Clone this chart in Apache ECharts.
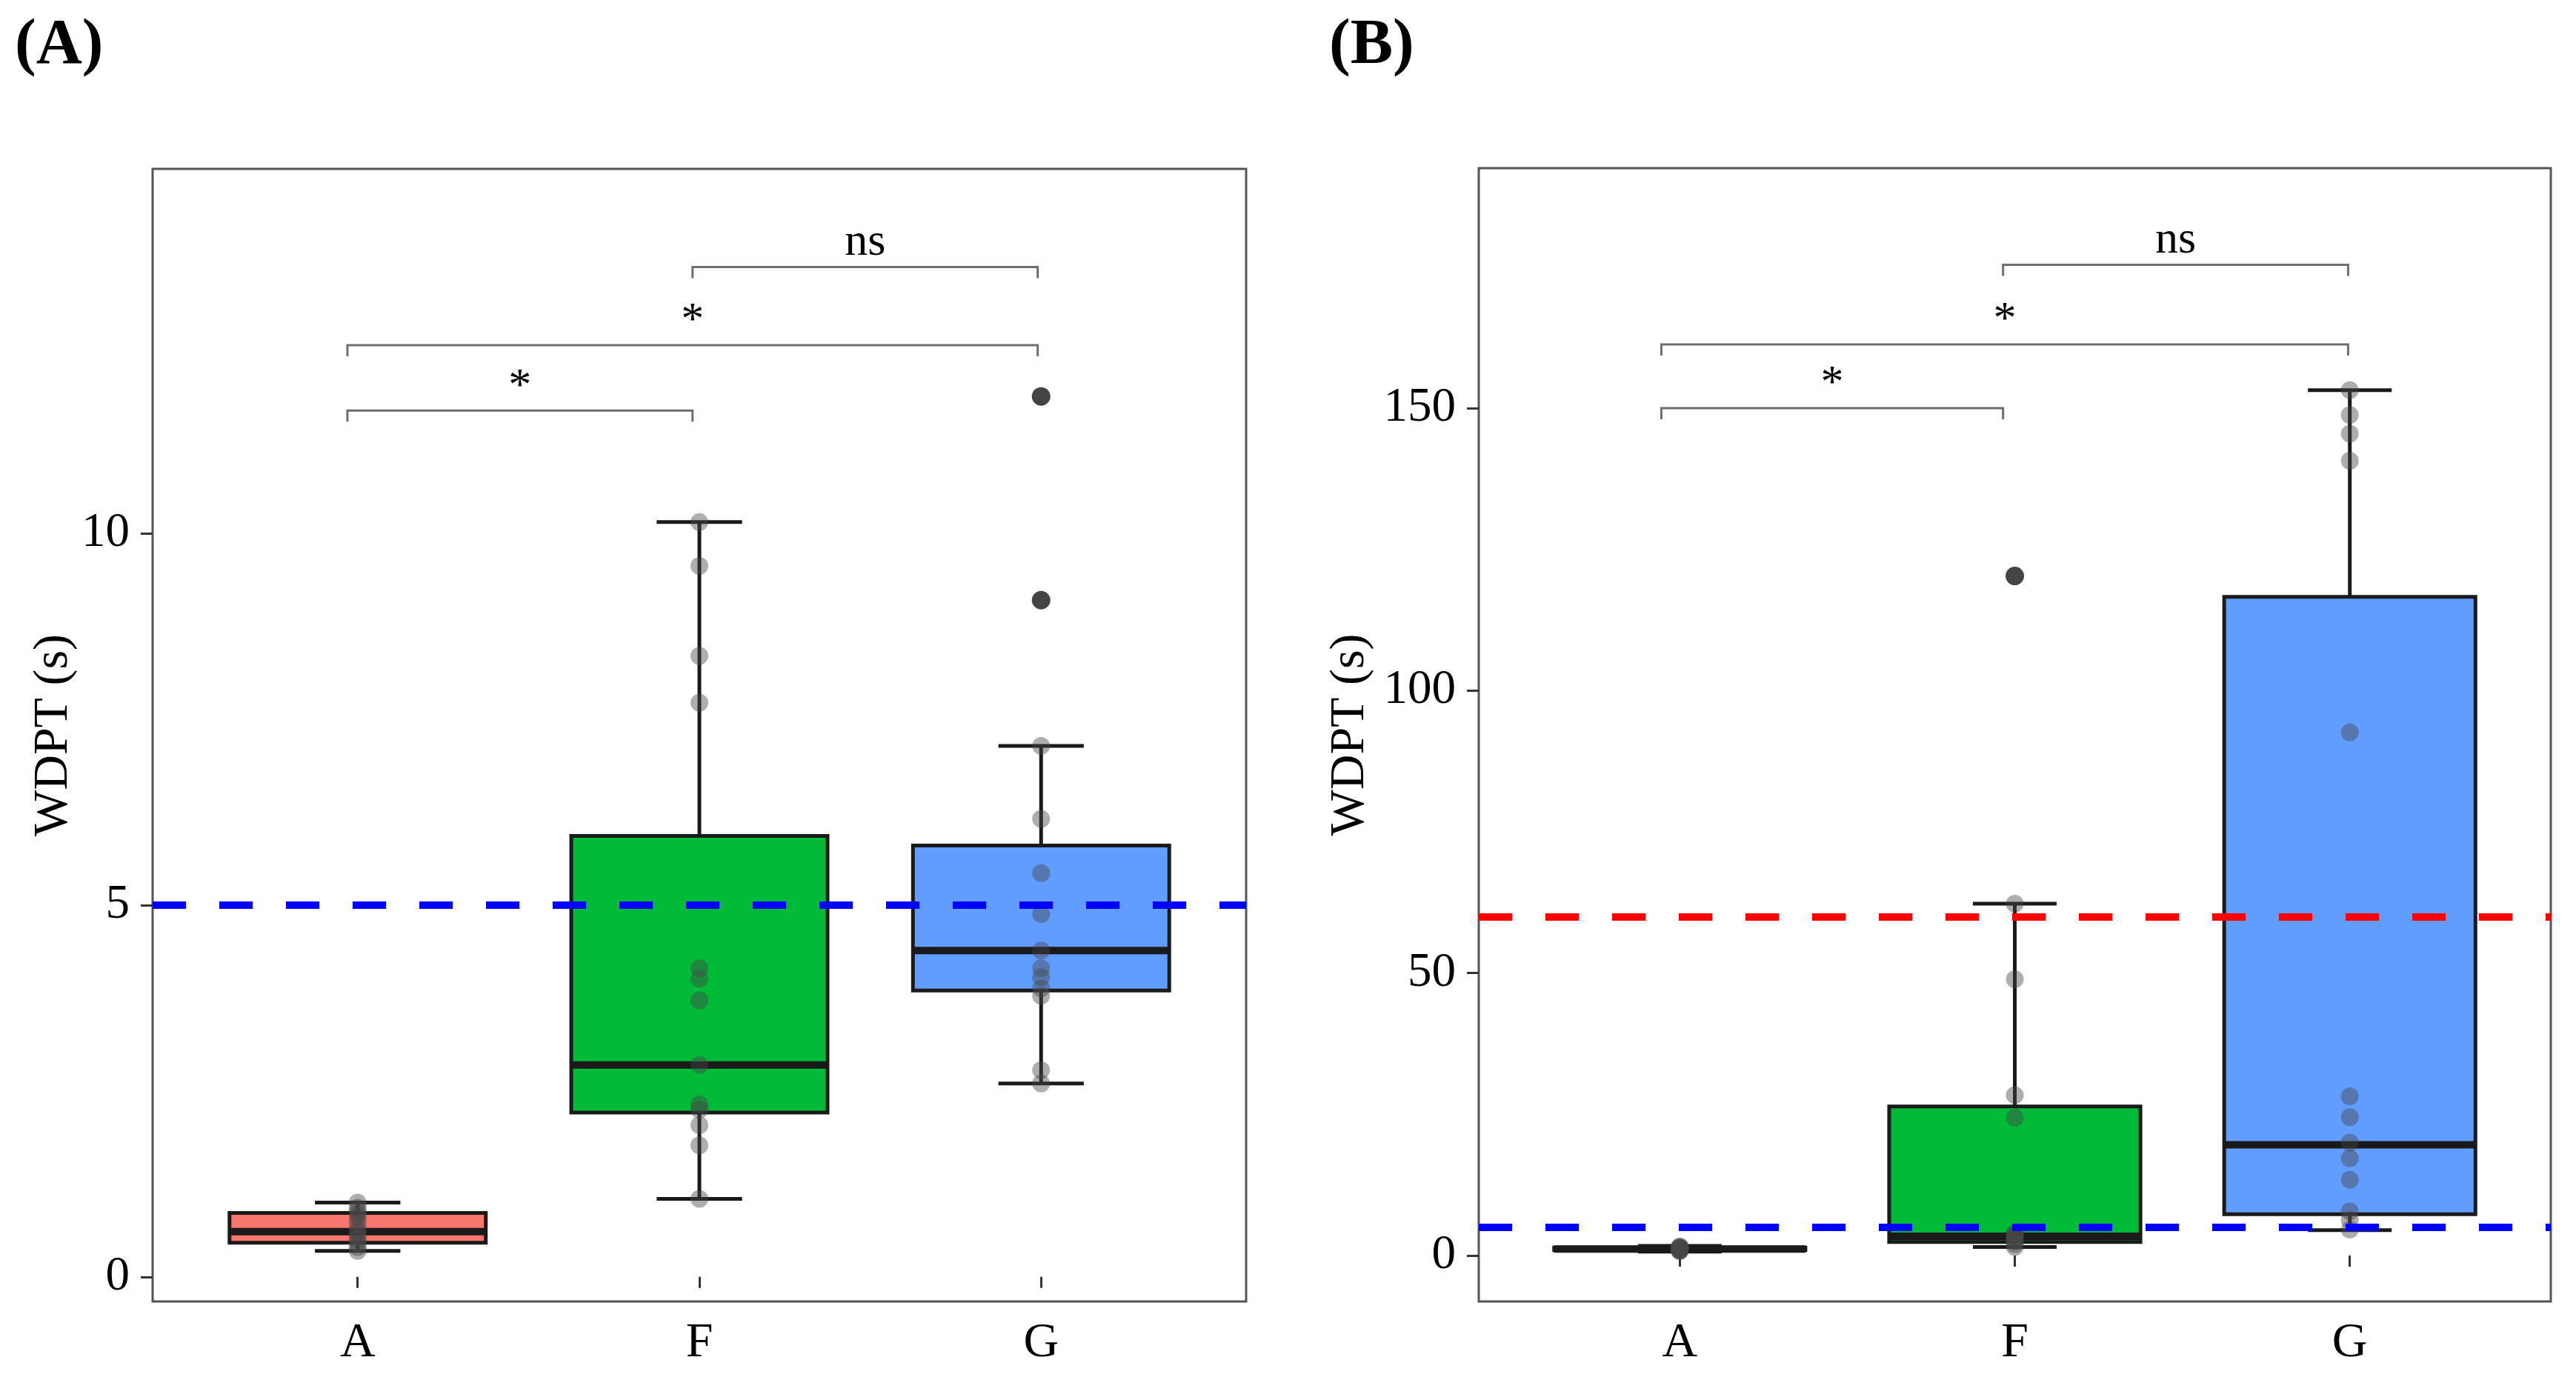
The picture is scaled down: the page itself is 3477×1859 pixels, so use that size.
<!DOCTYPE html>
<html><head><meta charset="utf-8">
<script src="https://cdn.jsdelivr.net/npm/echarts@6/dist/echarts.min.js"></script>
<style>html,body{margin:0;padding:0;background:#fff}#c{width:3477px;height:1859px}</style>
</head><body><div id="c"></div>
<script>
const categories = ['A', 'F', 'G'];
const boxColors = ['#F8766D', '#00BA38', '#619CFF'];

// ---- Panel (A): WDPT (s) ----
const aLow  = [0.35, 1.05, 2.60];
const aQ1   = [0.46, 2.21, 3.85];
const aMed  = [0.61, 2.85, 4.39];
const aQ3   = [0.86, 5.93, 5.80];
const aHigh = [1.00, 10.15, 7.14];
const aPtsA = [1.00, 0.93, 0.88, 0.84, 0.80, 0.72, 0.64, 0.60, 0.55, 0.50, 0.45, 0.40, 0.35];
const aPtsF = [10.15, 9.56, 8.35, 7.72, 4.15, 4.01, 3.72, 2.85, 2.32, 2.25, 2.04, 1.77, 1.05];
const aPtsG = [7.14, 6.16, 5.43, 4.88, 4.39, 4.15, 4.03, 3.88, 3.78, 2.78, 2.60];
const aOutF = [];
const aOutG = [9.10, 11.84];
const aRefBlue = 5;
const aTicks = [0, 5, 10];
const aSigX1 = [0.97, 0.97, 1.98];
const aSigX2 = [1.98, 2.99, 2.99];
const aSigY  = [11.65, 12.53, 13.58];

// ---- Panel (B): WDPT (s) ----
const bLow  = [0.70, 1.50, 4.50];
const bQ1   = [0.95, 2.40, 7.30];
const bMed  = [1.15, 3.40, 19.60];
const bQ3   = [1.40, 26.40, 116.60];
const bHigh = [1.70, 62.30, 153.20];
const bPtsA = [0.75, 0.85, 0.95, 1.00, 1.05, 1.10, 1.20, 1.25, 1.30, 1.35, 1.45, 1.50, 1.60];
const bPtsF = [62.3, 48.9, 28.4, 24.4, 4.0, 3.6, 3.4, 3.2, 2.9, 2.5, 2.0, 1.5];
const bPtsG = [153.2, 148.8, 145.5, 140.7, 92.6, 28.2, 24.5, 20.0, 17.2, 13.4, 7.8, 6.3, 4.6];
const bOutF = [120.3];
const bOutG = [];
const bRefBlue = 5;
const bRefRed = 60;
const bTicks = [0, 50, 100, 150];
const bSigX1 = [0.945, 0.945, 1.965];
const bSigX2 = [1.965, 2.995, 2.995];
const bSigY  = [150.0, 161.3, 175.4];

const sigLabels = ['*', '*', 'ns'];

const FONT = '"Liberation Serif", "Times New Roman", serif';

function boxData(low, q1, med, q3, high) {
  return categories.map((c, i) => [i + 1, low[i], q1[i], med[i], q3[i], high[i], i]);
}
function ptData(arrs) {
  const out = [];
  arrs.forEach((arr, i) => arr.forEach(v => out.push([i + 1, v])));
  return out;
}
function sigData(x1, x2, y) {
  return y.map((v, i) => [x1[i], x2[i], v, i]);
}

function renderBox(params, api) {
  const x = api.value(0);
  const pLow = api.coord([x, api.value(1)]);
  const pQ1 = api.coord([x, api.value(2)]);
  const pMed = api.coord([x, api.value(3)]);
  const pQ3 = api.coord([x, api.value(4)]);
  const pHigh = api.coord([x, api.value(5)]);
  const ci = api.value(6);
  const hw = api.size([0.75, 0])[0] / 2;
  const cw = api.size([0.25, 0])[0] / 2;
  const stroke = '#1a1a1a';
  return {
    type: 'group',
    children: [
      { type: 'line', shape: { x1: pLow[0], y1: pLow[1], x2: pHigh[0], y2: pHigh[1] }, style: { stroke, lineWidth: 5 } },
      { type: 'line', shape: { x1: pLow[0] - cw, y1: pLow[1], x2: pLow[0] + cw, y2: pLow[1] }, style: { stroke, lineWidth: 5 } },
      { type: 'line', shape: { x1: pHigh[0] - cw, y1: pHigh[1], x2: pHigh[0] + cw, y2: pHigh[1] }, style: { stroke, lineWidth: 5 } },
      { type: 'rect', shape: { x: pQ3[0] - hw, y: pQ3[1], width: hw * 2, height: pQ1[1] - pQ3[1] }, style: { fill: boxColors[ci], stroke, lineWidth: 5 } },
      { type: 'line', shape: { x1: pMed[0] - hw, y1: pMed[1], x2: pMed[0] + hw, y2: pMed[1] }, style: { stroke, lineWidth: 10 } }
    ]
  };
}

function renderSig(params, api) {
  const p1 = api.coord([api.value(0), api.value(2)]);
  const p2 = api.coord([api.value(1), api.value(2)]);
  const i = api.value(3);
  const drop = 15;
  const lab = sigLabels[i];
  return {
    type: 'group',
    children: [
      { type: 'polyline', shape: { points: [[p1[0], p1[1] + drop], [p1[0], p1[1]], [p2[0], p2[1]], [p2[0], p2[1] + drop]] },
        style: { stroke: '#6e6e6e', lineWidth: 3, fill: null } },
      { type: 'text', x: (p1[0] + p2[0]) / 2, y: p1[1] - (lab === '*' ? 1 : 2),
        style: { text: lab, font: '62px ' + FONT, fill: '#000', align: 'center', verticalAlign: 'bottom' } }
    ]
  };
}

function yAxisCfg(idx, min, max, ticks, gap) {
  return {
    type: 'value', gridIndex: idx, min, max,
    name: 'WDPT (s)', nameLocation: 'middle', nameGap: gap, nameRotate: 90,
    nameTextStyle: { fontFamily: FONT, fontSize: 66, color: '#000' },
    axisLine: { show: false },
    axisTick: { show: true, length: 16, customValues: ticks, lineStyle: { color: '#333', width: 3 } },
    axisLabel: { customValues: ticks, margin: 31, fontFamily: FONT, fontSize: 65, color: '#000' },
    splitLine: { show: false }
  };
}
function xAxisCfg(idx) {
  return {
    type: 'value', gridIndex: idx, min: 0.4, max: 3.6,
    axisLine: { show: false },
    axisTick: { show: true, length: 15, customValues: [1, 2, 3], lineStyle: { color: '#333', width: 3 } },
    axisLabel: { customValues: [1, 2, 3], margin: 24, fontFamily: FONT, fontSize: 66, color: '#000',
      formatter: v => categories[Math.round(v) - 1] || '' },
    splitLine: { show: false }
  };
}
function refLine(idx, values, color) {
  return {
    type: 'line', xAxisIndex: idx, yAxisIndex: idx, data: [], z: 3,
    markLine: {
      silent: true, symbol: 'none', animation: false,
      label: { show: false },
      lineStyle: { color, width: 10, type: [45, 45] },
      data: values.map(v => ({ yAxis: v }))
    }
  };
}

const chart = echarts.init(document.getElementById('c'), null, { renderer: 'canvas' });
chart.setOption({
  animation: false,
  backgroundColor: '#fff',
  grid: [
    { left: 206, top: 228, width: 1476, height: 1529, show: true, borderColor: '#555', borderWidth: 3, backgroundColor: 'transparent' },
    { left: 1996, top: 227, width: 1447, height: 1530, show: true, borderColor: '#555', borderWidth: 3, backgroundColor: 'transparent' }
  ],
  xAxis: [xAxisCfg(0), xAxisCfg(1)],
  yAxis: [yAxisCfg(0, -0.33, 14.9, aTicks, 100), yAxisCfg(1, -8.13, 192.5, bTicks, 140)],
  graphic: [
    { type: 'text', left: 20, top: 20, style: { text: '(A)', font: 'bold 86px ' + FONT, fill: '#000' } },
    { type: 'text', left: 1794, top: 20, style: { text: '(B)', font: 'bold 86px ' + FONT, fill: '#000' } }
  ],
  series: [
    { type: 'custom', xAxisIndex: 0, yAxisIndex: 0, z: 2, renderItem: renderBox, data: boxData(aLow, aQ1, aMed, aQ3, aHigh) },
    { type: 'custom', xAxisIndex: 1, yAxisIndex: 1, z: 2, renderItem: renderBox, data: boxData(bLow, bQ1, bMed, bQ3, bHigh) },
    refLine(0, [aRefBlue], '#0000ff'),
    refLine(1, [bRefBlue], '#0000ff'),
    refLine(1, [bRefRed], '#ff0000'),
    { type: 'scatter', xAxisIndex: 0, yAxisIndex: 0, z: 4, symbolSize: 24, itemStyle: { color: 'rgba(70,70,70,0.55)' }, data: ptData([aPtsA, aPtsF, aPtsG]) },
    { type: 'scatter', xAxisIndex: 1, yAxisIndex: 1, z: 4, symbolSize: 24, itemStyle: { color: 'rgba(70,70,70,0.55)' }, data: ptData([bPtsA, bPtsF, bPtsG]) },
    { type: 'scatter', xAxisIndex: 0, yAxisIndex: 0, z: 4, symbolSize: 25, itemStyle: { color: '#151515' }, data: ptData([[], aOutF, aOutG]) },
    { type: 'scatter', xAxisIndex: 1, yAxisIndex: 1, z: 4, symbolSize: 25, itemStyle: { color: '#151515' }, data: ptData([[], bOutF, bOutG]) },
    { type: 'custom', xAxisIndex: 0, yAxisIndex: 0, z: 5, renderItem: renderSig, data: sigData(aSigX1, aSigX2, aSigY) },
    { type: 'custom', xAxisIndex: 1, yAxisIndex: 1, z: 5, renderItem: renderSig, data: sigData(bSigX1, bSigX2, bSigY) }
  ]
});
</script></body></html>
